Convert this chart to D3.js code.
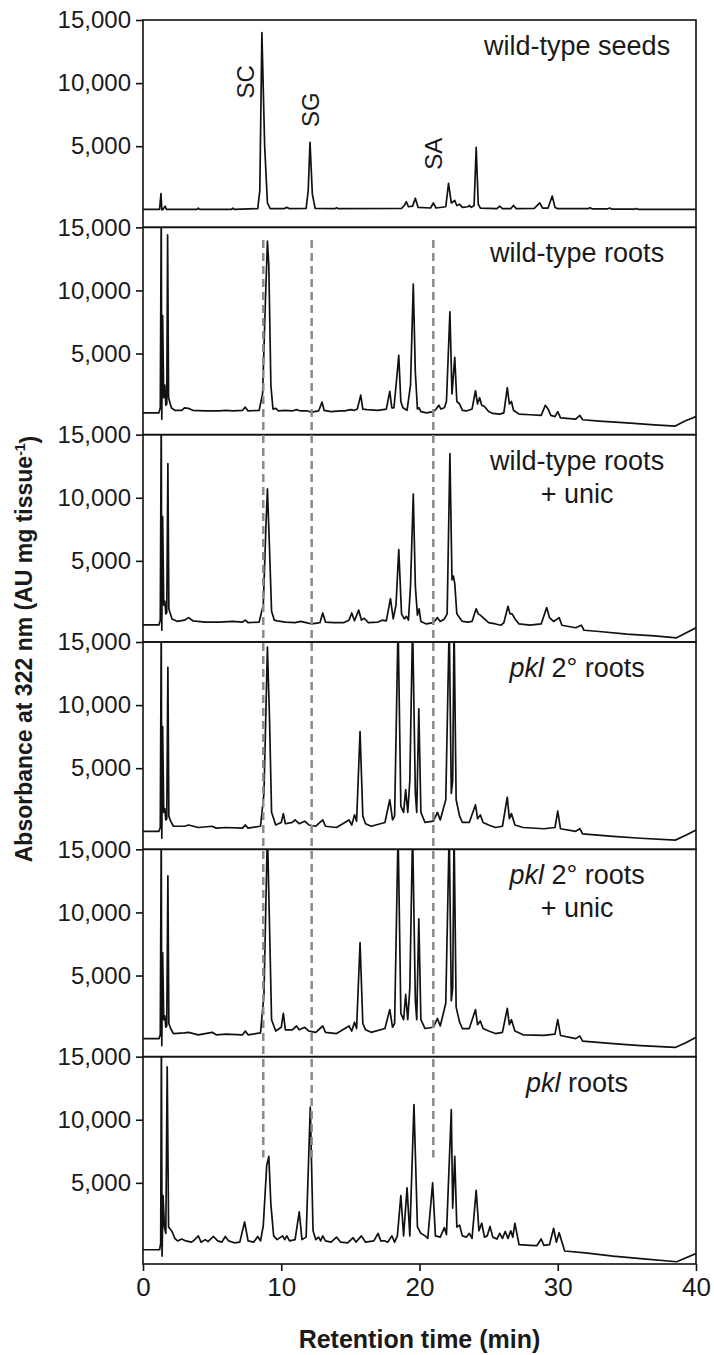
<!DOCTYPE html>
<html>
<head>
<meta charset="utf-8">
<script src="https://cdn.jsdelivr.net/npm/d3@7"></script>
<style>
  body { margin: 0; background: #fff; }
  text { font-family: "Liberation Sans", Arial, sans-serif; fill: #1a1a1a; }
</style>
</head>
<body>
<svg id="chart"></svg>
<script>
// panel titles (one entry per line; "pkl" is set in italics)
var panelLabels = [
  ["wild-type seeds"],
  ["wild-type roots"],
  ["wild-type roots", "+ unic"],
  ["pkl 2° roots"],
  ["pkl 2° roots", "+ unic"],
  ["pkl roots"]
];

var yTicks = [5000, 10000, 15000];
var xTicks = [0, 10, 20, 30, 40];

// compound annotations in the seed panel
var compoundNames = ["SC", "SG", "SA"];
var compoundLabelTime = [7.4, 12.1, 21.0];
var compoundLabelLevel = [10100, 7900, 4400];
var compoundTimes = [8.7, 12.2, 21.0];

// traces: [retention time (min), absorbance]
var seeds = [[0,0],[1.2,0],[1.3,1250],[1.36,-50],[1.45,0],[1.6,250],[1.7,0],[3.9,0],[4.0,100],[4.1,0],[6.4,0],[6.5,100],[6.6,0],[8.3,50],[8.45,1500],[8.6,14000],[8.8,5000],[9.0,500],[9.2,50],[10.2,50],[10.4,150],[10.6,50],[11.8,80],[11.95,1500],[12.08,5300],[12.25,1200],[12.45,80],[13.9,50],[14.0,120],[14.1,50],[18.7,80],[18.9,300],[19.05,600],[19.2,200],[19.5,250],[19.7,880],[19.9,150],[20.8,100],[21.0,500],[21.2,100],[21.9,200],[22.1,2050],[22.3,500],[22.55,700],[22.7,300],[22.9,400],[23.1,150],[23.5,200],[23.6,300],[23.75,150],[23.95,300],[24.1,4900],[24.25,400],[24.4,100],[25.6,50],[25.8,250],[26.0,50],[26.6,50],[26.8,300],[27.0,50],[28.3,80],[28.7,500],[28.9,100],[29.3,100],[29.6,1050],[29.8,150],[30,50],[32.2,50],[32.35,120],[32.5,30],[33.6,30],[33.75,100],[33.9,20],[35.6,20],[35.7,60],[35.8,0],[40,0]];

var wtRoots = [[0,300],[1.15,300],[1.25,700],[1.32,16500],[1.36,-200],[1.42,8000],[1.5,1500],[1.58,2500],[1.65,900],[1.72,1000],[1.78,14400],[1.85,1500],[1.95,1100],[2.05,700],[2.3,500],[2.8,500],[3.0,700],[3.3,650],[3.6,500],[4.5,450],[5.5,450],[6.0,500],[6.5,450],[7.2,500],[7.4,750],[7.6,450],[8.4,500],[8.65,1800],[8.85,9000],[9.0,13900],[9.1,12000],[9.25,2500],[9.4,600],[9.6,650],[9.8,450],[10.3,500],[10.8,450],[11.1,550],[11.4,450],[11.9,450],[12.2,350],[12.7,450],[12.95,1150],[13.1,500],[13.6,400],[14.3,450],[14.6,450],[15.0,550],[15.3,500],[15.5,600],[15.75,1700],[15.9,600],[16.2,550],[17.0,500],[17.6,600],[17.85,2000],[18.0,700],[18.15,700],[18.35,3000],[18.5,4850],[18.65,1200],[18.8,700],[19.1,500],[19.35,2500],[19.55,10500],[19.7,3500],[19.85,600],[19.97,700],[20.1,400],[20.5,300],[21.0,400],[21.2,600],[21.4,900],[21.55,600],[21.8,700],[21.95,1200],[22.2,8300],[22.35,1800],[22.55,4700],[22.7,1200],[22.9,1000],[23.1,500],[23.4,450],[23.8,600],[24.05,2050],[24.2,1000],[24.35,1500],[24.5,900],[24.7,800],[25.0,400],[25.3,250],[25.8,200],[26.1,300],[26.35,2300],[26.5,1000],[26.65,1200],[26.8,500],[27.2,200],[28.0,150],[28.8,100],[29.1,900],[29.3,600],[29.5,100],[29.8,0],[30.0,400],[30.2,-100],[31.3,-200],[31.6,100],[31.8,-250],[33,-350],[35,-500],[37,-650],[38.5,-750],[39.2,-350],[40,0]];

var wtRootsUnic = [[0,-80],[1.15,-80],[1.25,300],[1.32,16500],[1.36,-500],[1.42,8500],[1.5,1500],[1.58,1800],[1.65,800],[1.72,900],[1.8,12700],[1.87,1200],[1.95,900],[2.1,400],[2.5,200],[3.0,300],[3.3,500],[3.6,250],[4.5,150],[5.5,150],[6.5,200],[7.2,150],[7.4,300],[7.6,100],[8.4,150],[8.7,1500],[8.9,8000],[9.0,10700],[9.15,6000],[9.3,1000],[9.5,300],[9.7,250],[10.3,150],[11,100],[11.4,200],[11.8,100],[12.2,0],[12.8,100],[13.0,870],[13.2,150],[13.8,100],[14.5,100],[14.9,300],[15.1,870],[15.3,250],[15.6,1100],[15.8,300],[16.0,450],[16.3,100],[17.0,150],[17.3,300],[17.6,250],[17.9,2000],[18.1,400],[18.3,1500],[18.5,5900],[18.7,800],[18.9,400],[19.05,600],[19.2,300],[19.35,3000],[19.55,10300],[19.7,3000],[19.85,700],[19.97,1200],[20.1,200],[20.5,0],[21.0,100],[21.3,500],[21.5,200],[21.8,400],[22.0,800],[22.2,13500],[22.35,3500],[22.45,3800],[22.55,3200],[22.7,800],[22.9,500],[23.1,200],[23.5,150],[23.8,200],[24.1,1200],[24.25,800],[24.4,700],[24.6,500],[25.0,100],[25.5,0],[25.9,-100],[26.1,100],[26.4,1400],[26.55,800],[26.7,800],[26.9,400],[27.2,0],[28.0,-100],[28.8,0],[29.2,1300],[29.4,500],[29.7,200],[30.1,500],[30.3,-100],[31.3,-300],[31.7,-100],[31.9,-500],[33,-600],[35,-800],[37,-950],[38.6,-1100],[39.3,-700],[40,-300]];

var pklSecRoots = [[0,0],[1.15,0],[1.25,300],[1.32,16500],[1.36,-550],[1.42,8300],[1.5,1500],[1.58,1800],[1.65,900],[1.72,1000],[1.8,13000],[1.87,1200],[2.0,800],[2.2,400],[3.0,400],[3.3,500],[4,300],[5.0,400],[5.3,250],[6.0,300],[7.2,250],[7.4,500],[7.6,250],[8.5,400],[8.75,3000],[9.0,14600],[9.15,9000],[9.3,1500],[9.6,500],[10.0,700],[10.15,1400],[10.3,600],[10.8,700],[11.0,900],[11.3,600],[11.7,800],[12.0,500],[12.5,400],[13.0,900],[13.2,400],[14.0,300],[14.9,900],[15.1,500],[15.3,1300],[15.45,800],[15.7,7900],[15.9,1200],[16.1,600],[16.5,400],[17.5,700],[17.85,2500],[18.05,900],[18.2,1200],[18.45,16500],[18.65,2000],[18.85,1500],[19.0,3300],[19.15,1500],[19.3,4000],[19.5,16500],[19.7,3000],[19.8,1500],[19.95,9700],[20.1,1500],[20.4,700],[21.0,800],[21.3,1500],[21.5,900],[21.9,2500],[22.15,16500],[22.3,3000],[22.4,4000],[22.5,16500],[22.65,2500],[22.9,1200],[23.1,700],[23.6,700],[24.05,2100],[24.2,1000],[24.4,1300],[24.6,700],[25,500],[25.5,300],[26,400],[26.35,2700],[26.5,1000],[26.65,1400],[26.9,500],[27.5,300],[29,200],[29.8,300],[30.0,1600],[30.2,200],[31.3,0],[31.6,200],[31.8,-200],[34,-400],[36,-550],[38.5,-700],[39.3,-300],[40,100]];

var pklSecRootsUnic = [[0,0],[1.15,0],[1.25,300],[1.32,16500],[1.36,-550],[1.42,6800],[1.5,1500],[1.58,1800],[1.65,900],[1.72,1000],[1.8,12900],[1.87,1200],[2.0,800],[2.2,400],[3.0,450],[3.3,500],[4,300],[5.0,500],[5.3,300],[6.0,350],[7.2,300],[7.4,600],[7.6,300],[8.5,450],[8.75,3500],[9.0,16500],[9.15,9000],[9.3,1500],[9.6,600],[10.0,900],[10.15,2000],[10.3,700],[10.8,700],[11.1,1000],[11.3,700],[11.7,900],[12.0,600],[12.5,500],[13.0,1000],[13.2,500],[14.0,400],[14.9,1000],[15.1,600],[15.3,1300],[15.45,800],[15.7,7600],[15.9,1200],[16.1,700],[16.5,500],[17.5,800],[17.85,2300],[18.05,900],[18.2,1200],[18.45,16500],[18.65,2000],[18.85,1500],[19.0,3500],[19.15,1500],[19.3,4000],[19.5,16500],[19.7,3000],[19.8,1500],[19.95,9500],[20.1,1500],[20.4,800],[21.0,900],[21.3,1600],[21.5,1000],[21.9,2800],[22.15,16500],[22.3,3000],[22.4,4000],[22.5,16500],[22.65,2500],[22.9,1300],[23.1,800],[23.6,800],[24.05,2300],[24.2,1100],[24.4,1400],[24.6,800],[25,600],[25.5,400],[26,500],[26.35,2400],[26.5,1100],[26.65,1500],[26.9,600],[27.5,300],[29,250],[29.8,350],[30.0,1500],[30.2,250],[31.3,0],[31.6,200],[31.8,-200],[34,-400],[36,-550],[38.5,-700],[39.3,-300],[40,100]];

var pklRoots = [[0,-300],[1.2,-300],[1.28,200],[1.33,16500],[1.38,-800],[1.45,4000],[1.55,1500],[1.65,1000],[1.75,14200],[1.85,1500],[2.1,1150],[2.3,600],[2.5,400],[2.8,550],[3.1,400],[3.5,300],[3.7,450],[4.0,800],[4.2,300],[4.5,500],[4.7,350],[5.1,750],[5.4,400],[5.7,300],[5.95,750],[6.2,400],[6.6,250],[7.0,300],[7.35,1900],[7.6,400],[8.0,300],[8.3,750],[8.5,400],[8.7,1600],[8.95,6400],[9.1,7100],[9.25,3300],[9.45,800],[9.7,500],[10.1,800],[10.25,500],[10.4,800],[10.6,400],[11.0,500],[11.3,2700],[11.5,500],[11.8,700],[12.1,11000],[12.3,1200],[12.5,500],[12.7,700],[12.85,400],[13.0,800],[13.2,400],[13.6,300],[14.0,700],[14.3,300],[14.8,250],[15.2,650],[15.4,300],[15.8,800],[16.1,300],[16.7,400],[17.0,1000],[17.2,400],[17.5,400],[17.7,300],[18.0,800],[18.2,300],[18.4,800],[18.65,4000],[18.85,800],[19.1,4600],[19.3,800],[19.6,11200],[19.85,1500],[20.1,1000],[20.4,800],[20.6,600],[20.95,5000],[21.15,800],[21.5,700],[21.8,1450],[21.95,900],[22.3,10800],[22.4,3000],[22.55,7100],[22.7,1500],[22.9,1650],[23.1,800],[23.4,700],[23.6,1000],[23.8,600],[24.1,4400],[24.3,1200],[24.5,1800],[24.7,700],[24.9,800],[25.1,1550],[25.3,700],[25.6,550],[25.8,1000],[26.0,600],[26.2,1150],[26.4,600],[26.6,1200],[26.75,700],[26.9,1800],[27.2,100],[28.0,50],[28.5,30],[28.8,550],[29.0,50],[29.4,100],[29.7,1400],[29.9,300],[30.1,1050],[30.5,-400],[32,-550],[34,-800],[36,-1000],[38.6,-1250],[40,-600]];

var traces = [seeds, wtRoots, wtRootsUnic, pklSecRoots, pklSecRootsUnic, pklRoots];

var render = function() {
  var width = 714, height = 1355;
  var margin = { top: 20, left: 143, right: 18, bottom: 91 };
  var plotW = width - margin.left - margin.right,
      plotH = height - margin.top - margin.bottom,
      nPanels = traces.length,
      panelH = plotH / nPanels;

  var svg = d3.select("#chart")
    .attr("width", width)
    .attr("height", height);

  var xScale = d3.scaleLinear().domain([0, 40]).range([margin.left, margin.left + plotW]);

  var yScales = traces.map(function(d, i) {
    var top = margin.top + i * panelH;
    return d3.scaleLinear().domain([-1430, 15000]).range([top + panelH, top]);
  });

  var defs = svg.append("defs");

  traces.forEach(function(trace, i) {
    var top = margin.top + i * panelH;
    var y = yScales[i];

    defs.append("clipPath")
      .attr("id", "clip" + i)
      .append("rect")
      .attr("x", margin.left)
      .attr("y", top)
      .attr("width", plotW)
      .attr("height", panelH);

    var line = d3.line()
      .x(function(d) { return xScale(d[0]); })
      .y(function(d) { return y(d[1]); });

    svg.append("path")
      .datum(trace)
      .attr("clip-path", "url(#clip" + i + ")")
      .attr("d", line)
      .style("fill", "none")
      .style("stroke", "#111")
      .style("stroke-width", 1.7)
      .style("stroke-linejoin", "round");

    var yAxis = d3.axisLeft(y)
      .tickValues(yTicks)
      .tickSize(7)
      .tickPadding(5)
      .tickFormat(d3.format(","));

    var g = svg.append("g")
      .attr("transform", "translate(" + margin.left + ",0)")
      .call(yAxis);
    g.select(".domain").remove();
    g.selectAll("line").style("stroke", "#111").style("stroke-width", 1.6);
    g.selectAll("text")
      .style("font-size", "24px")
      .style("font-family", "'Liberation Sans', Arial, sans-serif")
      .style("fill", "#1a1a1a");

    svg.append("rect")
      .attr("x", margin.left)
      .attr("y", top)
      .attr("width", plotW)
      .attr("height", panelH)
      .style("fill", "none")
      .style("stroke", "#111")
      .style("stroke-width", 1.6);

    var lab = svg.append("text")
      .attr("x", margin.left + plotW * 0.785)
      .attr("y", top + 35)
      .style("font-size", "27px")
      .style("text-anchor", "middle");
    panelLabels[i].forEach(function(str, k) {
      var t = lab.append("tspan")
        .attr("x", margin.left + plotW * 0.785)
        .attr("dy", k === 0 ? 0 : 33);
      if (str.indexOf("pkl ") === 0) {
        t.append("tspan").style("font-style", "italic").text("pkl");
        t.append("tspan").text(str.slice(3));
      } else {
        t.text(str);
      }
    });
  });

  // dashed guides for SC, SG, SA
  svg.selectAll(".guide")
    .data(compoundTimes)
    .enter().append("line")
    .attr("class", "guide")
    .attr("x1", function(d) { return xScale(d); })
    .attr("x2", function(d) { return xScale(d); })
    .attr("y1", yScales[1](14000))
    .attr("y2", yScales[5](7000))
    .style("stroke", "#8a8a8a")
    .style("stroke-width", 2.5)
    .style("stroke-dasharray", "8,5");

  svg.selectAll(".cname")
    .data(compoundNames)
    .enter().append("text")
    .attr("class", "cname")
    .attr("transform", function(d, i) {
      return "translate(" + xScale(compoundLabelTime[i]) + "," + yScales[0](compoundLabelLevel[i]) + ") rotate(-90)";
    })
    .attr("dy", "0.35em")
    .style("text-anchor", "middle")
    .style("font-size", "24px")
    .text(function(d) { return d; });

  // bottom time axis
  var xAxis = d3.axisBottom(xScale)
    .tickValues(xTicks)
    .tickSize(7)
    .tickPadding(7);
  var gx = svg.append("g")
    .attr("transform", "translate(0," + (margin.top + plotH) + ")")
    .call(xAxis);
  gx.select(".domain").remove();
  gx.selectAll("line").style("stroke", "#111").style("stroke-width", 1.6);
  gx.selectAll("text")
    .style("font-size", "26px")
    .style("font-family", "'Liberation Sans', Arial, sans-serif")
    .style("fill", "#1a1a1a");

  svg.append("text")
    .attr("x", margin.left + plotW / 2)
    .attr("y", 1348)
    .style("text-anchor", "middle")
    .style("font-size", "25px")
    .style("font-weight", "bold")
    .text("Retention time (min)");

  var yt = svg.append("text")
    .attr("transform", "translate(24,649) rotate(-90)")
    .attr("dy", "0.35em")
    .style("text-anchor", "middle")
    .style("font-size", "23px")
    .style("font-weight", "bold");
  yt.append("tspan").text("Absorbance at 322 nm (AU mg tissue");
  yt.append("tspan").attr("dy", "-0.5em").style("font-size", "14px").text("-1");
  yt.append("tspan").attr("dy", "0.5em").text(")");
};

render();
</script>
</body>
</html>
